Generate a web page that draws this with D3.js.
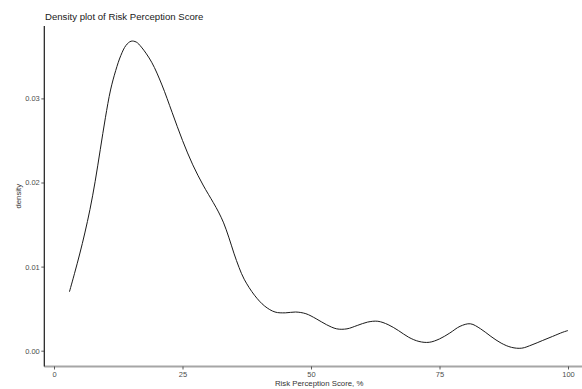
<!DOCTYPE html>
<html>
<head>
<meta charset="utf-8">
<script src="https://cdn.jsdelivr.net/npm/d3@7"></script>
<style>
  html, body { margin: 0; padding: 0; background: #fff; }
  svg { display: block; }
  text { font-family: "Liberation Sans", Arial, sans-serif; }
</style>
</head>
<body>
<svg id="chart" width="582" height="389"></svg>
<script>
// Estimated kernel density of the risk perception score
const scores = [3, 4, 5, 6, 7, 8, 9, 10, 11, 12, 13, 14, 15, 16, 17, 19, 21, 23, 25, 27, 29, 31, 32, 33, 34, 35, 36, 37, 39, 41, 43, 45, 47, 49, 51, 53, 55, 57, 59, 61, 63, 65, 67, 69, 71, 73, 75, 77, 79, 81, 83, 85, 87, 89, 91, 93, 95, 97, 99, 100];
const densities = [0.0070, 0.0092, 0.0115, 0.0140, 0.0168, 0.0201, 0.0239, 0.0277, 0.0310, 0.0333, 0.0351, 0.0363, 0.0368, 0.0367, 0.0361, 0.0343, 0.0316, 0.0283, 0.0250, 0.0221, 0.0197, 0.0176, 0.0165, 0.0152, 0.0135, 0.0116, 0.0099, 0.0085, 0.0066, 0.0053, 0.0046, 0.0045, 0.0046, 0.0044, 0.0038, 0.0031, 0.0026, 0.0026, 0.0030, 0.0034, 0.0035, 0.0031, 0.0024, 0.0016, 0.0011, 0.0010, 0.0014, 0.0021, 0.0029, 0.0032, 0.0026, 0.0017, 0.0009, 0.0004, 0.0003, 0.0007, 0.0012, 0.0017, 0.0022, 0.0024];

const xTicks = [0, 25, 50, 75, 100];
const yTicks = [0.00, 0.01, 0.02, 0.03];
const xTickLabels = ["0", "25", "50", "75", "100"];
const yTickLabels = ["0.00", "0.01", "0.02", "0.03"];

const titleText = "Density plot of Risk Perception Score";
const xTitle = "Risk Perception Score, %";
const yTitle = "density";

const svg = d3.select("#chart");
const W = 582, H = 389;

const x = d3.scaleLinear().domain([0, 100]).range([54, 568]);
const y = d3.scaleLinear().domain([0, 0.03]).range([350.7, 98.4]);

const panelLeft = 44.3, panelBottom = 366.5, panelTop = 26;

// density curve
const pts = scores.map((s, i) => [s, densities[i]]);
svg.append("path")
  .datum(pts)
  .attr("fill", "none")
  .attr("stroke", "#1a1a1a")
  .attr("stroke-width", 1)
  .attr("d", d3.line().x(d => x(d[0])).y(d => y(d[1])).curve(d3.curveCatmullRom.alpha(0.5)));

// x axis
const xAxisG = svg.append("g").attr("transform", `translate(0,${panelBottom})`);
xAxisG.append("line")
  .attr("x1", panelLeft).attr("x2", W)
  .attr("y1", 0).attr("y2", 0)
  .attr("stroke", "#a6a6a6").attr("stroke-width", 2);
xAxisG.call(d3.axisBottom(x).tickValues(xTicks).tickFormat((d, i) => xTickLabels[i]).tickSize(3).tickPadding(2))
  .call(g => g.select(".domain").remove())
  .call(g => g.selectAll(".tick line").attr("stroke", "#333").attr("stroke-width", 0.8))
  .call(g => g.selectAll(".tick text").attr("fill", "#4d4d4d").style("font-size", "7.5px").style("font-family", "Liberation Sans, Arial, sans-serif"));

// y axis
const yAxisG = svg.append("g").attr("transform", `translate(${panelLeft},0)`);
yAxisG.append("line")
  .attr("x1", 0).attr("x2", 0)
  .attr("y1", panelTop).attr("y2", panelBottom)
  .attr("stroke", "#1a1a1a").attr("stroke-width", 1.2);
yAxisG.call(d3.axisLeft(y).tickValues(yTicks).tickFormat((d, i) => yTickLabels[i]).tickSize(3).tickPadding(1.5))
  .call(g => g.select(".domain").remove())
  .call(g => g.selectAll(".tick line").attr("stroke", "#333").attr("stroke-width", 0.8))
  .call(g => g.selectAll(".tick text").attr("fill", "#4d4d4d").style("font-size", "7.5px").style("font-family", "Liberation Sans, Arial, sans-serif"));

// titles
svg.append("text")
  .attr("x", 45).attr("y", 19.5)
  .attr("fill", "#1a1a1a")
  .style("font-size", "9.6px")
  .text(titleText);

svg.append("text")
  .attr("x", (panelLeft + W) / 2 + 6).attr("y", 386)
  .attr("text-anchor", "middle")
  .attr("fill", "#333")
  .style("font-size", "7.8px")
  .text(xTitle);

svg.append("text")
  .attr("transform", `translate(21,${(panelTop + panelBottom) / 2}) rotate(-90)`)
  .attr("text-anchor", "middle")
  .attr("fill", "#333")
  .style("font-size", "7.8px")
  .text(yTitle);
</script>
</body>
</html>
